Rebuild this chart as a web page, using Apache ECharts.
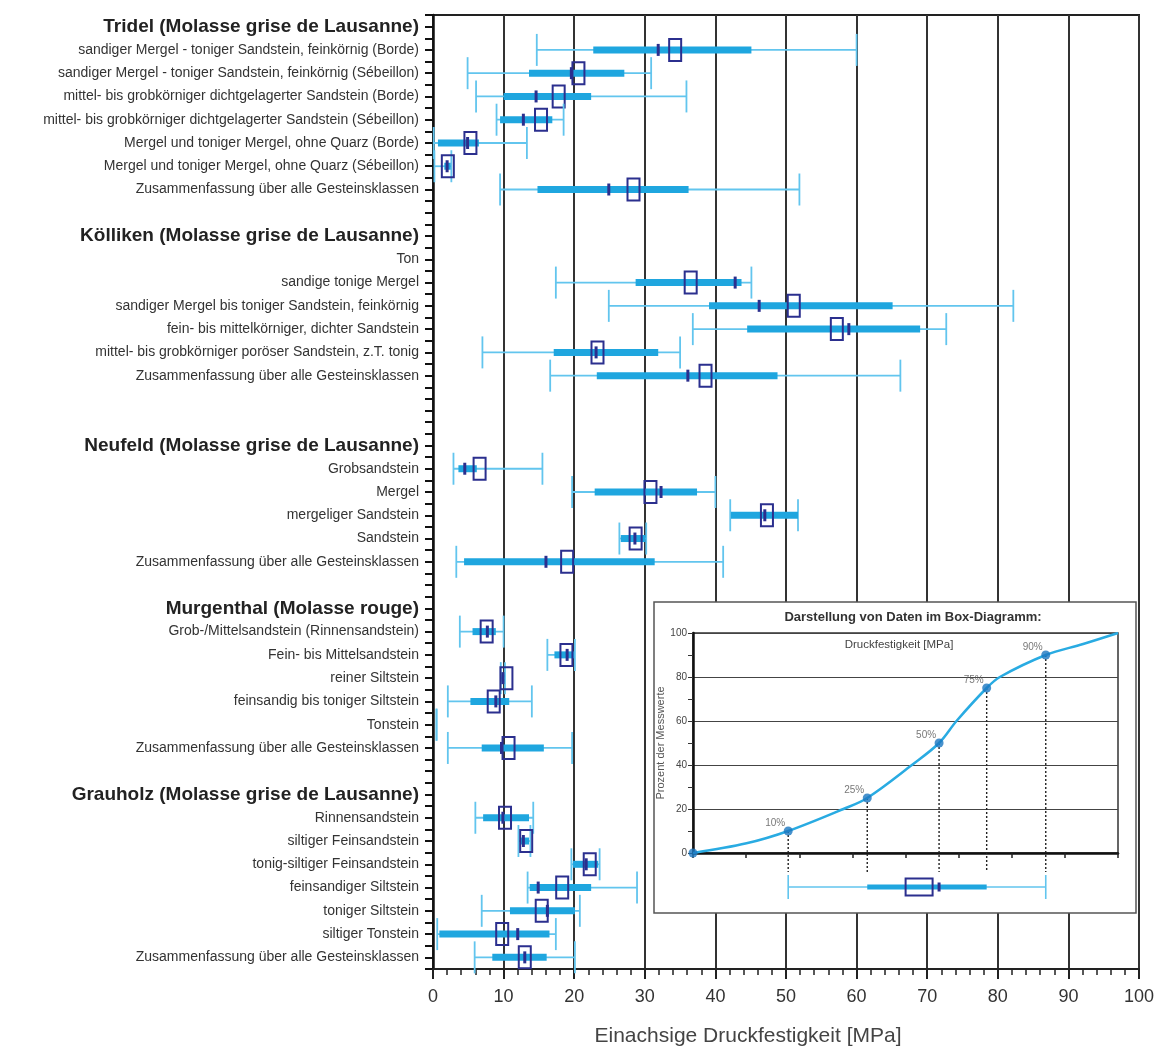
<!DOCTYPE html>
<html><head><meta charset="utf-8">
<script src="https://cdn.jsdelivr.net/npm/echarts@6/dist/echarts.min.js"></script>
<style>html,body{margin:0;padding:0;background:#fff}#c{width:1171px;height:1052px}</style>
</head><body><div id="c"></div>
<script>
// ---------- DATA ----------
const rowLabels = [
  'Tridel (Molasse grise de Lausanne)',
  'sandiger Mergel - toniger Sandstein, feinkörnig (Borde)',
  'sandiger Mergel - toniger Sandstein, feinkörnig (Sébeillon)',
  'mittel- bis grobkörniger dichtgelagerter Sandstein (Borde)',
  'mittel- bis grobkörniger dichtgelagerter Sandstein (Sébeillon)',
  'Mergel und toniger Mergel, ohne Quarz (Borde)',
  'Mergel und toniger Mergel, ohne Quarz (Sébeillon)',
  'Zusammenfassung über alle Gesteinsklassen',
  '',
  'Kölliken (Molasse grise de Lausanne)',
  'Ton',
  'sandige tonige Mergel',
  'sandiger Mergel bis toniger Sandstein, feinkörnig',
  'fein- bis mittelkörniger, dichter Sandstein',
  'mittel- bis grobkörniger poröser Sandstein, z.T. tonig',
  'Zusammenfassung über alle Gesteinsklassen',
  '',
  '',
  'Neufeld (Molasse grise de Lausanne)',
  'Grobsandstein',
  'Mergel',
  'mergeliger Sandstein',
  'Sandstein',
  'Zusammenfassung über alle Gesteinsklassen',
  '',
  'Murgenthal (Molasse rouge)',
  'Grob-/Mittelsandstein (Rinnensandstein)',
  'Fein- bis Mittelsandstein',
  'reiner Siltstein',
  'feinsandig bis toniger Siltstein',
  'Tonstein',
  'Zusammenfassung über alle Gesteinsklassen',
  '',
  'Grauholz (Molasse grise de Lausanne)',
  'Rinnensandstein',
  'siltiger Feinsandstein',
  'tonig-siltiger Feinsandstein',
  'feinsandiger Siltstein',
  'toniger Siltstein',
  'siltiger Tonstein',
  'Zusammenfassung über alle Gesteinsklassen'
];
const groupTitles = [
  'Tridel (Molasse grise de Lausanne)',
  'Kölliken (Molasse grise de Lausanne)',
  'Neufeld (Molasse grise de Lausanne)',
  'Murgenthal (Molasse rouge)',
  'Grauholz (Molasse grise de Lausanne)'
];
// percentiles 10 / 25 / 50 / 75 / 90 and mean, per row (null = no data)
const p10 = [null,14.7,4.9,6.1,9.0,0.1,0.2,9.5, null, null,null,17.4,24.9,36.8,7.0,16.6, null,null, null,2.9,19.7,42.1,26.4,3.3, null, null,3.8,16.2,9.6,2.1,0.5,2.1, null, null,6.0,12.1,19.6,13.4,6.9,0.6,5.9];
const p25 = [null,22.7,13.6,10.0,9.5,0.7,1.6,14.8, null, null,null,28.7,39.1,44.5,17.1,23.2, null,null, null,3.6,22.9,42.2,26.6,4.4, null, null,5.6,17.2,9.7,5.3,null,6.9, null, null,7.1,12.4,19.8,13.7,10.9,0.9,8.4];
const p50 = [null,31.9,19.6,14.6,12.8,4.9,2.0,24.9, null, null,null,42.8,46.2,58.9,23.1,36.1, null,null, null,4.5,32.3,47.0,28.6,16.0, null, null,7.7,19.0,9.9,8.9,null,9.7, null, null,9.9,12.8,21.7,14.9,16.2,12.0,13.0];
const p75 = [null,45.1,27.1,22.4,16.9,6.5,2.5,36.2, null, null,null,43.7,65.1,69.0,31.9,48.8, null,null, null,6.2,37.4,51.7,30.1,31.4, null, null,8.9,20.0,10.1,10.8,null,15.7, null, null,13.6,13.6,23.4,22.4,20.1,16.5,16.1];
const p90 = [null,60.0,30.9,35.9,18.5,13.3,2.6,51.9, null, null,null,45.1,82.2,72.7,35.0,66.2, null,null, null,15.5,40.0,51.7,30.2,41.1, null, null,10.0,20.1,10.2,14.0,0.5,19.7, null, null,14.2,13.8,23.6,28.9,20.8,17.4,20.1];
const meanV = [null,34.3,20.6,17.8,15.3,5.3,2.1,28.4, null, null,null,36.5,51.1,57.2,23.3,38.6, null,null, null,6.6,30.8,47.3,28.7,19.0, null, null,7.6,18.9,10.4,8.6,null,10.7, null, null,10.2,13.2,22.2,18.3,15.4,9.8,13.0];

const xTicks = [0,10,20,30,40,50,60,70,80,90,100];

// inset: cumulative distribution illustration
const curveX = [0,12.6,22.4,35.4,41.0,51.5,57.9,62.0,69.1,72.2,83.0,91.8,100];
const curveY = [0,4.4,10,20,25,40,50,60,75,80,90,95,100];
const pctX = [22.4,41.0,57.9,69.1,83.0];
const pctY = [10,25,50,75,90];
const pctLabels = ['10%','25%','50%','75%','90%'];
const exampleBox = [22.4,41.0,57.9,69.1,83.0,53.2]; // p10,p25,p50,p75,p90,mean

// ---------- STYLE ----------
const FONT = 'Liberation Sans, Arial, sans-serif';
const WHISKER = '#62c5ee';
const BAR = '#1fa6df';
const NAVY = '#2b2f8e';
const ok = n => n !== null && n !== undefined && !isNaN(n);

function boxRender(opt) {
  return function (params, api) {
    const row = api.value(0);
    const vals = [1,2,3,4,5,6].map(k => api.value(k));
    const yc = api.coord([0, row])[1];
    const X = v => api.coord([v, row])[0];
    const [a,b,c,d,e,m] = vals;
    const kids = [];
    if (ok(a) && ok(e)) {
      kids.push({type:'line', shape:{x1:X(a),y1:yc,x2:X(e),y2:yc}, style:{stroke:WHISKER,lineWidth:opt.wl}});
      [a,e].forEach(v => kids.push({type:'line', shape:{x1:X(v),y1:yc-opt.cap,x2:X(v),y2:yc+opt.cap}, style:{stroke:WHISKER,lineWidth:opt.wl}}));
    }
    if (ok(b) && ok(d)) {
      kids.push({type:'rect', shape:{x:X(b),y:yc-opt.bh/2,width:Math.max(X(d)-X(b),1),height:opt.bh}, style:{fill:BAR}});
    }
    if (ok(c)) {
      kids.push({type:'rect', shape:{x:X(c)-1.5,y:yc-opt.mh/2,width:3,height:opt.mh}, style:{fill:NAVY}});
    }
    if (ok(m)) {
      kids.push({type:'rect', shape:{x:X(m)-opt.sw/2,y:yc-opt.sh/2,width:opt.sw,height:opt.sh}, style:{fill:'none',stroke:NAVY,lineWidth:2}});
    }
    return {type:'group', children:kids};
  };
}

const mainData = [];
rowLabels.forEach((lab, i) => {
  if (ok(p10[i]) || ok(p50[i])) mainData.push([i, p10[i], p25[i], p50[i], p75[i], p90[i], meanV[i]]);
});

const chart = echarts.init(document.getElementById('c'));
chart.setOption({
  animation: false,
  textStyle: {fontFamily: FONT},
  graphic: {elements: [
    {type:'rect', z:50, shape:{x:654,y:602,width:482,height:311}, style:{fill:'#fff',stroke:'#555',lineWidth:1.5}},
    {type:'text', z:70, x:913, y:617, style:{text:'Darstellung von Daten im Box-Diagramm:', font:'bold 13px '+FONT, fill:'#333', textAlign:'center', textVerticalAlign:'middle'}},
    {type:'text', z:70, x:899, y:645, style:{text:'Druckfestigkeit [MPa]', font:'11.5px '+FONT, fill:'#444', textAlign:'center', textVerticalAlign:'middle'}}
  ]},
  grid: [
    {left:433, right:32, top:15, bottom:80, show:true, borderColor:'#222', borderWidth:2, backgroundColor:'transparent'},
    {left:693, width:425, top:633, height:220, show:true, borderColor:'#333', borderWidth:1.5, z:60}
  ],
  xAxis: [
    {type:'value', gridIndex:0, min:0, max:100, interval:10,
     axisLine:{show:true,lineStyle:{color:'#222',width:2}},
     axisTick:{show:true,length:10,lineStyle:{color:'#222',width:2}},
     minorTick:{show:true,splitNumber:5,length:6,lineStyle:{color:'#222',width:1.5}},
     splitLine:{show:true,lineStyle:{color:'#333',width:2}},
     axisLabel:{fontSize:18,color:'#333',margin:19, formatter: v => xTicks.includes(v) ? String(v) : ''},
     name:'Einachsige Druckfestigkeit [MPa]', nameLocation:'middle', nameGap:57,
     nameTextStyle:{fontSize:21,color:'#444',padding:[0,76,0,0]}},
    {type:'value', gridIndex:1, min:0, max:100, interval:12.5, z:60,
     axisLine:{show:true,lineStyle:{color:'#111',width:2.5}},
     axisTick:{show:true,length:5,lineStyle:{color:'#222',width:1.5}},
     axisLabel:{show:false}, splitLine:{show:false}}
  ],
  yAxis: [
    {type:'category', gridIndex:0, data:rowLabels, inverse:true,
     axisLine:{show:true,lineStyle:{color:'#111',width:2.5}},
     axisTick:{show:true,length:8,alignWithLabel:false,lineStyle:{color:'#111',width:2}},
     splitLine:{show:false},
     axisLabel:{interval:0, margin:14, hideOverlap:false,
       formatter: v => v === '' ? '' : (groupTitles.includes(v) ? '{b|' + v + '}' : '{n|' + v + '}'),
       rich:{b:{fontWeight:'bold',fontSize:19,color:'#222',fontFamily:FONT}, n:{fontSize:14,color:'#333',fontFamily:FONT}}}},
    {type:'category', gridIndex:0, data:rowLabels, inverse:true, position:'left',
     axisLine:{show:false}, axisLabel:{show:false}, splitLine:{show:false},
     axisTick:{show:true,length:8,alignWithLabel:true,lineStyle:{color:'#111',width:2}}},
    {type:'value', gridIndex:1, min:0, max:100, interval:20, z:60,
     axisLine:{show:true,lineStyle:{color:'#111',width:2.5}},
     axisTick:{show:true,length:5,lineStyle:{color:'#333',width:1}},
     minorTick:{show:true,splitNumber:2,length:5,lineStyle:{color:'#333',width:1}},
     splitLine:{show:true,lineStyle:{color:'#444',width:1}},
     axisLabel:{fontSize:10,color:'#444',margin:6},
     name:'Prozent der Messwerte', nameLocation:'middle', nameGap:25, nameRotate:90,
     nameTextStyle:{fontSize:11,color:'#555'}}
  ],
  series: [
    {type:'custom', xAxisIndex:0, yAxisIndex:0, clip:false, z:5,
     renderItem: boxRender({wl:1.8, cap:16, bh:7, mh:12, sw:12, sh:22}),
     encode:{y:0, x:[1,2,3,4,5,6]}, data: mainData},
    {type:'line', xAxisIndex:1, yAxisIndex:2, z:62, smooth:0.35, showSymbol:false,
     lineStyle:{color:'#29abe2',width:2.5},
     data: curveX.map((x,i) => [x, curveY[i]])},
    {type:'custom', xAxisIndex:1, yAxisIndex:2, z:61, clip:false,
     renderItem: function (params, api) {
       const p = api.coord([api.value(0), api.value(1)]);
       const b = api.coord([api.value(0), 0]);
       return {type:'line', shape:{x1:p[0],y1:p[1],x2:b[0],y2:b[1]+19}, style:{stroke:'#222',lineWidth:1.4,lineDash:[2,2]}};
     },
     data: pctX.map((x,i) => [x, pctY[i]])},
    {type:'scatter', xAxisIndex:1, yAxisIndex:2, z:64, symbol:'circle', symbolSize:9,
     itemStyle:{color:'#1b77c0'},
     label:{show:true, position:'inside', offset:[-13,-8], fontSize:10, color:'#555', formatter: p => p.data[2]},
     data: [[0,0,'']].concat(pctX.map((x,i) => [x, pctY[i], pctLabels[i]]))},
    {type:'custom', xAxisIndex:1, yAxisIndex:2, z:64, clip:false,
     renderItem: function (params, api) {
       const vals = [1,2,3,4,5,6].map(k => api.value(k));
       const yc = api.coord([0, 0])[1] + 34;
       const X = v => api.coord([v, 0])[0];
       const [a,b,c,d,e,m] = vals;
       return {type:'group', children:[
         {type:'line', shape:{x1:X(a),y1:yc,x2:X(e),y2:yc}, style:{stroke:WHISKER,lineWidth:1.6}},
         {type:'line', shape:{x1:X(a),y1:yc-12,x2:X(a),y2:yc+12}, style:{stroke:WHISKER,lineWidth:1.6}},
         {type:'line', shape:{x1:X(e),y1:yc-12,x2:X(e),y2:yc+12}, style:{stroke:WHISKER,lineWidth:1.6}},
         {type:'rect', shape:{x:X(b),y:yc-2.5,width:X(d)-X(b),height:5}, style:{fill:BAR}},
         {type:'rect', shape:{x:X(c)-1.5,y:yc-4.5,width:3,height:9}, style:{fill:NAVY}},
         {type:'rect', shape:{x:X(m)-13.5,y:yc-8.5,width:27,height:17}, style:{fill:'none',stroke:NAVY,lineWidth:2}}
       ]};
     },
     encode:{x:[1,2,3,4,5,6], y:0},
     data: [[0].concat(exampleBox)]}
  ]
});
</script></body></html>
